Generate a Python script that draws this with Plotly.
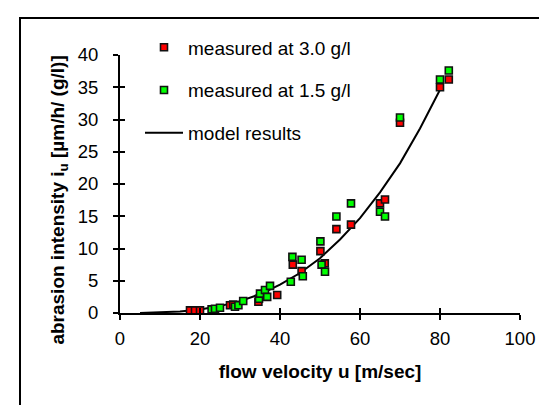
import plotly.graph_objects as go

# measured at 3.0 g/l
u_30 = [17.5, 18.75, 20.0, 27.5, 28.3, 34.6, 39.3, 43.2, 45.4, 50.1, 51.2, 54.1, 57.75, 65.0, 66.25, 70.0, 80.0, 82.2]
i_30 = [0.4, 0.4, 0.4, 1.2, 1.3, 1.75, 2.8, 7.5, 6.5, 9.6, 7.7, 13.0, 13.7, 17.0, 17.6, 29.5, 35.0, 36.2]

# measured at 1.5 g/l
u_15 = [22.9, 23.75, 25.0, 28.75, 29.6, 30.8, 34.75, 35.0, 36.25, 36.8, 37.5, 42.7, 43.1, 45.4, 45.7,
        50.1, 50.4, 51.25, 54.1, 57.75, 65.0, 66.25, 70.0, 80.0, 82.2]
i_15 = [0.56, 0.67, 0.82, 0.97, 1.2, 1.86, 2.2, 3.0, 3.56, 2.5, 4.2, 4.85, 8.7, 8.25, 5.7,
        11.1, 7.5, 6.4, 14.95, 17.0, 15.7, 14.95, 30.3, 36.2, 37.6]

# model results
u_model = [5, 10, 15, 20, 25, 30, 35, 40, 45, 50, 55, 60, 65, 70, 75, 80]
i_model = [0.01, 0.07, 0.23, 0.55, 1.07, 1.84, 2.9, 4.4, 6.2, 8.5, 11.4, 14.7, 18.7, 23.2, 28.6, 34.6]

x_ticks = [0, 20, 40, 60, 80, 100]
y_ticks = [0, 5, 10, 15, 20, 25, 30, 35, 40]

FONT = "Liberation Sans, Arial, sans-serif"
W, H = 547, 405
ML, MR, MT, MB = 112, 35, 47, 100
PW, PH = W - ML - MR, H - MT - MB

fig = go.Figure()
fig.add_trace(go.Scatter(
    x=u_model, y=i_model, mode="lines", name="model results",
    line=dict(color="black", width=2), legendgroup="c", legendrank=3, hoverinfo="skip"))
fig.add_trace(go.Scatter(
    x=u_30, y=i_30, mode="markers", name="measured at 3.0 g/l",
    marker=dict(symbol="square", size=7, color="#ff0000", line=dict(color="#111111", width=1.6)),
    legendgroup="a", legendrank=1))
fig.add_trace(go.Scatter(
    x=u_15, y=i_15, mode="markers", name="measured at 1.5 g/l",
    marker=dict(symbol="square", size=7, color="#00ff00", line=dict(color="#111111", width=1.6)),
    legendgroup="b", legendrank=2))
# invisible trace to materialize the overlay axes (inside ticks)
fig.add_trace(go.Scatter(x=u_model, y=i_model, xaxis="x2", yaxis="y2", mode="lines",
                         line=dict(width=0), opacity=0, showlegend=False, hoverinfo="skip"))

axis_common = dict(showgrid=False, zeroline=False, showline=True, linecolor="black", linewidth=2,
                   tickcolor="black", tickwidth=2, ticklen=5,
                   tickfont=dict(family=FONT, size=18.5, color="black"))

fig.update_layout(
    width=W, height=H,
    margin=dict(l=ML, r=MR, t=MT, b=MB),
    paper_bgcolor="white", plot_bgcolor="white",
    font=dict(family=FONT, size=19, color="black"),
    xaxis=dict(range=[0, 100], tickvals=x_ticks, ticks="outside", ticklabelstandoff=3,
               title=dict(text="<b>flow velocity u [m/sec]</b>", font=dict(family=FONT, size=19), standoff=16),
               **axis_common),
    yaxis=dict(range=[0, 40], tickvals=y_ticks, ticks="outside", ticklabelstandoff=11, **axis_common),
    xaxis2=dict(range=[0, 100], tickvals=x_ticks, ticks="inside", overlaying="x", anchor="y",
                side="bottom", showticklabels=False, **axis_common),
    yaxis2=dict(range=[0, 40], tickvals=y_ticks, ticks="inside", overlaying="y", anchor="x",
                side="left", showticklabels=False, **axis_common),
    legend=dict(x=0.05, y=1.103, xanchor="left", yanchor="top", bgcolor="rgba(0,0,0,0)",
                traceorder="grouped", tracegroupgap=15, itemwidth=38,
                font=dict(family=FONT, size=19, color="black")),
    showlegend=True,
    annotations=[dict(
        text="<b>abrasion intensity i<sub>u</sub> [µm/h/ (g/l)]</b>",
        xref="paper", yref="paper", x=(50.6 - ML) / PW, y=(H - MB - 192) / PH,
        xanchor="center", yanchor="middle", textangle=-90, showarrow=False,
        font=dict(family=FONT, size=19, color="black"))],
    shapes=[dict(type="rect", xref="paper", yref="paper",
                 x0=(12 - ML) / PW, x1=(W + 5 - ML) / PW,
                 y0=-(H + 5 - (H - MB)) / PH, y1=(H - MB - 10) / PH,
                 line=dict(color="black", width=2), layer="below")],
)

fig.write_html("out.html")
